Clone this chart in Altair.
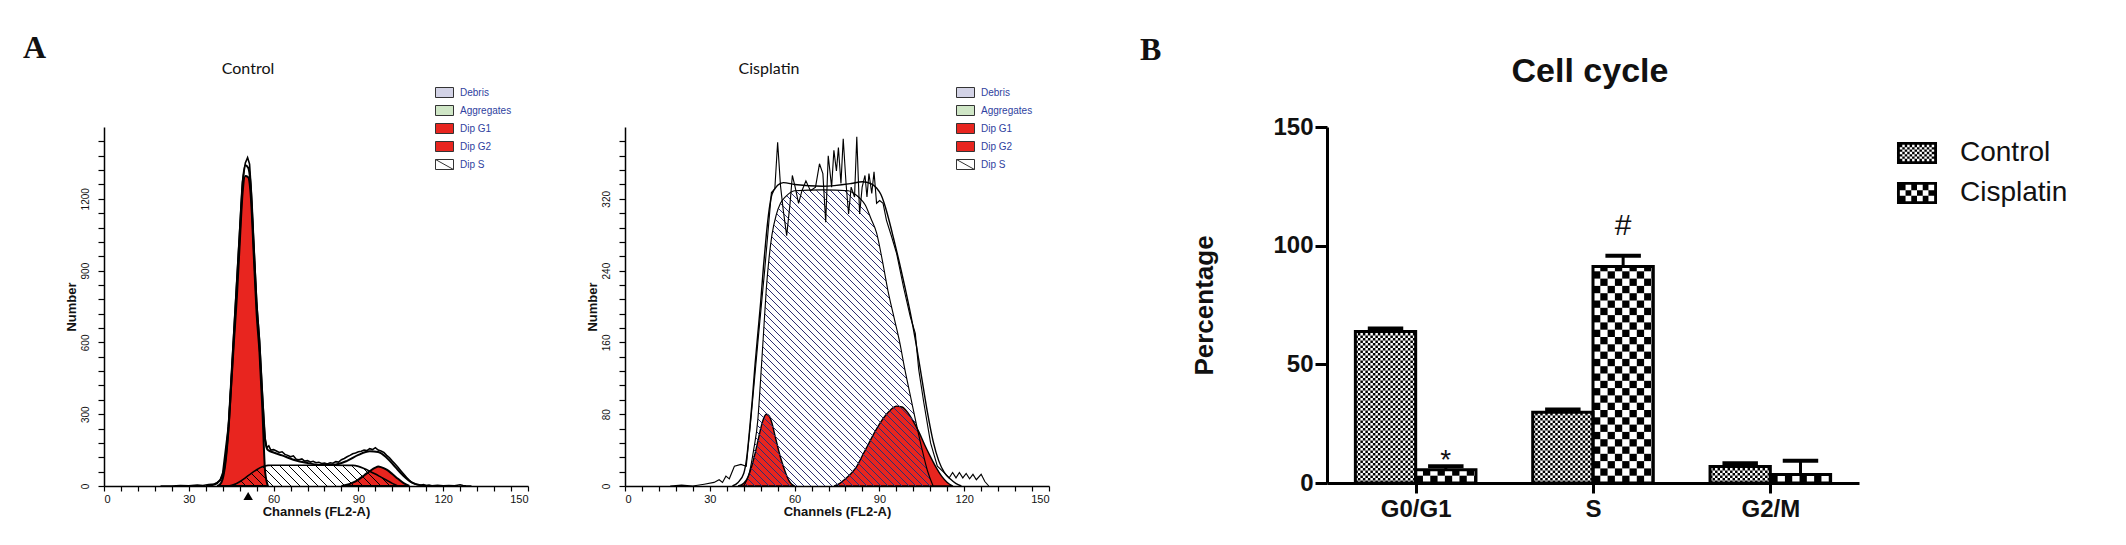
import json

import altair as alt
import numpy as np
import pandas as pd

# ---------------- A: DNA content histograms (FL2-A channel, cell number) ----
ctrl_g1_ch = [40, 41, 42, 43, 44, 45, 46, 47, 48, 49, 50, 51, 52, 53, 54, 55, 56, 57, 58]
ctrl_g1_n = [0, 6, 30, 100, 230, 420, 610, 790, 1010, 1220, 1295, 1290, 1200, 960, 720, 560, 330, 60, 0]
ctrl_g2_ch = [84, 86, 88, 90, 92, 94, 96, 97, 98, 100, 102, 104, 106, 108]
ctrl_g2_n = [0, 5, 14, 27, 44, 62, 77, 81, 79, 68, 50, 30, 12, 0]
ctrl_s_ch = [44, 46, 48, 50, 52, 54, 56, 58, 60, 70, 80, 88, 90, 92, 94, 96, 98, 100, 102, 104]
ctrl_s_n = [0, 6, 18, 34, 52, 68, 80, 86, 87, 87, 87, 86, 82, 73, 62, 50, 37, 24, 11, 0]
ctrl_fit_ch = [36, 38, 40, 42, 44, 46, 48, 49, 50, 51, 52, 53, 54, 55, 56, 57, 58, 60, 63, 67,
               72, 77, 82, 86, 90, 94, 97, 100, 103, 106, 109, 112, 115]
ctrl_fit_n = [0, 3, 12, 45, 240, 640, 1050, 1260, 1340, 1330, 1240, 1000, 760, 600, 380, 190, 150,
              140, 128, 110, 96, 88, 90, 105, 130, 145, 142, 118, 80, 42, 14, 3, 0]
ctrl_raw_ch = [20, 24, 27, 30, 33, 35, 37, 39, 40, 41, 42, 44, 46, 48, 49, 50, 50.8, 51.5, 52, 53,
               54, 55, 56, 57, 57.6, 58.3, 59, 60, 61, 62, 63, 64, 65, 66, 67, 68, 69, 70, 71, 72,
               73, 74, 75, 76, 77, 78, 79, 80, 81, 82, 83, 84, 85, 86, 87, 88, 89, 90, 91, 92,
               93, 94, 95, 96, 97, 98, 99, 100, 101, 102, 103, 104, 105, 106, 107, 108, 109, 110,
               111, 112, 113, 114, 115, 116, 118, 120, 122, 124, 126, 127, 128, 130]
ctrl_raw_n = [0, 0, 2, 1, 4, 2, 6, 8, 14, 22, 55, 250, 660, 1070, 1270, 1350, 1372, 1345, 1250, 1010,
              770, 610, 390, 200, 160, 168, 150, 152, 146, 140, 143, 132, 128, 122, 126, 112, 110,
              113, 104, 106, 100, 103, 97, 99, 94, 96, 92, 97, 95, 102, 100, 110, 115, 122, 128,
              135, 138, 143, 145, 150, 148, 156, 152, 160, 150, 146, 140, 128, 118, 104, 92, 78,
              64, 50, 36, 24, 14, 8, 5, 3, 6, 2, 4, 1, 3, 1, 2, 1, 5, 2, 1, 0]
ctrl_gate_ch = [51]

cis_g1_ch = [40, 42, 43.5, 45, 46, 47, 48, 49, 50, 51, 52, 53, 54, 55, 56, 57, 58, 59, 60]
cis_g1_n = [0, 3, 10, 24, 36, 50, 64, 75, 80, 78, 70, 57, 44, 32, 22, 13, 6, 2, 0]
cis_g2_ch = [74, 76, 78, 80, 82, 84, 86, 88, 90, 92, 94, 96, 98, 100, 102, 104, 106, 108, 110,
             112, 114, 116]
cis_g2_n = [0, 3, 8, 14, 22, 34, 46, 58, 69, 78, 85, 89, 88, 82, 72, 60, 46, 33, 21, 11, 4, 0]
cis_s_ch = [42, 44, 45.5, 47, 48, 49, 50, 51, 52, 53.5, 55, 57, 60, 70, 79, 81, 83, 85, 87, 89,
            91, 93, 95, 97, 99, 101, 103, 105, 107, 109]
cis_s_n = [0, 15, 40, 74, 120, 170, 220, 255, 280, 302, 315, 323, 329, 330, 329, 326, 321, 313,
           298, 282, 252, 218, 190, 163, 130, 100, 70, 42, 17, 0]
cis_fit_ch = [38, 40, 42, 43, 44, 45, 46, 47, 48, 49, 50, 51, 52, 54, 56, 60, 70, 80, 84, 87, 89,
              90.5, 92, 93.5, 95, 97, 99, 101, 103, 105, 107, 109, 111, 113, 115, 117, 119]
cis_fit_n = [0, 4, 14, 30, 60, 95, 135, 170, 205, 245, 280, 308, 325, 335, 338, 336, 334, 337, 339,
             337, 332, 325, 312, 295, 276, 250, 222, 192, 158, 120, 82, 50, 28, 15, 8, 3, 0]
cis_raw_ch = [16, 20, 24, 28, 31.5, 33.3, 34.5, 35.7, 36.9, 38.7, 41, 42.9, 44.7, 47, 49.4, 51.8,
              53, 54, 55, 56, 57.2, 58.4, 59.2, 60.2, 61.4, 62.6, 64, 65.6, 67.4, 68.8, 70, 71,
              71.9, 73.1, 73.9, 74.8, 75.5, 76.4, 77.2, 78.2, 79.1, 80, 81.2, 82, 83, 83.9, 84.9,
              85.6, 86.3, 87.3, 88.1, 89, 90.1, 91.3, 92.5, 94.3, 96.1, 98.5, 100.9, 102.7, 103.9,
              105.7, 108.1, 110.5, 112.9, 114.7, 115.9, 117.1, 118.3, 119.5, 120.7, 121.9, 123.1,
              124.3, 126, 127.3, 128.7]
cis_raw_n = [0, 1, 0, 2, 4, 7, 4, 11, 8, 22, 24, 22, 80, 160, 240, 327, 331, 383, 335, 307, 279,
             315, 346, 333, 315, 329, 340, 329, 333, 359, 348, 294, 368, 333, 374, 351, 377, 337,
             387, 337, 303, 333, 322, 389, 303, 333, 346, 322, 348, 326, 350, 315, 318, 315, 296,
             278, 259, 222, 189, 170, 130, 93, 48, 22, 15, 9, 15, 9, 15, 9, 14, 8, 13, 7, 13, 5, 0]

parts = ["Debris", "Aggregates", "Dip G1", "Dip G2", "Dip S"]
part_fill = ["#d3d3e6", "#cfe6c6", "#e8251f", "#e8251f", "#ffffff"]

# ---------------- B: cell cycle distribution (%) ----------------
phases = ["G0/G1", "S", "G2/M"]
control_mean = [63.8, 29.8, 6.9]
control_sem = [1.3, 1.2, 1.4]
cisplatin_mean = [5.6, 91.2, 3.6]
cisplatin_sem = [1.5, 4.5, 5.8]
signif = ["*", "#", ""]

RED = "#e8251f"
NAVY = "#2f2f70"
SANS = "Liberation Sans"
HIST_W, HIST_H = 424, 359
BAR_W, BAR_H = 532, 356


def frame(ch, n):
    return pd.DataFrame({"ch": ch, "n": n})


def hatch(ch, n, ymax, gap):
    # diagonal "\\\" hatching clipped to the area under the S-phase curve
    px = np.arange(0, HIST_W, 0.25)
    top = HIST_H - np.interp(px / HIST_W * 150, ch, n, left=0, right=0) / ymax * HIST_H
    rows = []
    for b in np.arange(-HIST_H, HIST_W, gap):
        py = px + b
        inside = ((py >= top) & (py <= HIST_H) & (top < HIST_H - 0.5)).astype(int)
        edges = np.flatnonzero(np.diff(np.concatenate([[0], inside, [0]])))
        for s, e in zip(edges[::2], edges[1::2] - 1):
            if e - s < 2:
                continue
            rows.append({"ch": px[s] / HIST_W * 150, "n": (HIST_H - py[s]) / HIST_H * ymax,
                         "ch2": px[e] / HIST_W * 150, "n2": (HIST_H - py[e]) / HIST_H * ymax})
    return pd.DataFrame(rows)


def rect_path(x0, y0, x1, y1):
    return f"M{x0:.3f},{y0:.3f}H{x1:.3f}V{y1:.3f}H{x0:.3f}Z"


def hist_panel(title, ymax, tick_step, label_step, g1, g2, s, fit, raw,
               hatch_color, hatch_gap, lw, gate=None):
    xs = alt.Scale(domain=[0, 150], nice=False, zero=False)
    ys = alt.Scale(domain=[0, ymax], nice=False)
    x_axis = alt.Axis(values=list(range(0, 151, 6)), format="d",
                      labelExpr="datum.value % 30 === 0 ? datum.label : ''",
                      title="Channels (FL2-A)", titleFontSize=13, titleFontWeight="bold",
                      titlePadding=1, labelFontSize=11, labelPadding=2, tickSize=5,
                      labelFont=SANS, titleFont=SANS, grid=False,
                      domainColor="black", tickColor="black", domainWidth=1.5, tickWidth=1.2,
                      labelColor="#111", titleColor="#111")
    y_axis = alt.Axis(values=list(range(0, ymax, tick_step)), format="d",
                      labelExpr=f"datum.value % {label_step} === 0 ? datum.label : ''",
                      title="Number", titleFontSize=13, titleFontWeight="bold",
                      titlePadding=2, labelFontSize=10, labelAngle=-90, labelAlign="center",
                      labelBaseline="bottom", labelPadding=8, tickSize=6,
                      labelFont=SANS, titleFont=SANS, grid=False,
                      domainColor="black", tickColor="black", domainWidth=1.5, tickWidth=1.2,
                      labelColor="#111", titleColor="#111")
    X = alt.X("ch:Q", scale=xs, axis=x_axis)
    Y = alt.Y("n:Q", scale=ys, axis=y_axis)

    red_g1 = alt.Chart(frame(*g1)).mark_area(
        fill=RED, stroke="black", strokeWidth=lw, interpolate="monotone").encode(x=X, y=Y)
    red_g2 = alt.Chart(frame(*g2)).mark_area(
        fill=RED, stroke="black", strokeWidth=lw, interpolate="monotone").encode(x=X, y=Y)
    hatch_lines = alt.Chart(hatch(s[0], s[1], ymax, hatch_gap)).mark_rule(
        color=hatch_color, strokeWidth=1).encode(x=X, y=Y, x2="ch2:Q", y2="n2:Q")
    s_line = alt.Chart(frame(*s)).mark_line(
        color="black", strokeWidth=lw * 0.8, interpolate="monotone").encode(x=X, y=Y)
    fit_line = alt.Chart(frame(*fit)).mark_line(
        color="black", strokeWidth=lw, interpolate="monotone").encode(x=X, y=Y)
    raw_line = alt.Chart(frame(*raw)).mark_line(
        color="black", strokeWidth=lw * 0.8).encode(x=X, y=Y)

    legend = alt.Legend(orient="none", legendX=335, legendY=-40, title=None,
                        labelFont=SANS, labelFontSize=10, labelColor="#2f3fa0",
                        symbolSize=100, labelOffset=10, rowPadding=3, padding=0,
                        symbolOpacity=1, symbolStrokeWidth=1)
    box = rect_path(-1.8, -1, 1.8, 1)
    paths = [box, box, box, box, box + "M-1.8,-1L1.8,1"]
    key = alt.Chart(pd.DataFrame({"part": parts})).mark_point(
        opacity=0, strokeWidth=1, filled=True).encode(
        x=alt.value(0), y=alt.value(0),
        fill=alt.Fill("part:N", scale=alt.Scale(domain=parts, range=part_fill), legend=legend),
        stroke=alt.Stroke("part:N", scale=alt.Scale(domain=parts, range=["#333"] * 5),
                          legend=legend),
        shape=alt.Shape("part:N", scale=alt.Scale(domain=parts, range=paths), legend=legend))

    layers = [red_g1, red_g2, hatch_lines, s_line, fit_line, raw_line, key]
    if gate is not None:
        layers.append(alt.Chart(pd.DataFrame({"ch": gate})).mark_point(
            shape="triangle-up", filled=True, color="black", size=90, opacity=1).encode(
            x=X, y=alt.value(HIST_H + 10)))

    return alt.layer(*layers).properties(
        width=HIST_W, height=HIST_H,
        title=alt.TitleParams(title, font="Lato", fontSize=16, fontWeight="normal",
                              color="#111", anchor="middle", dx=-68, offset=10))


ctrl = hist_panel("Control", 1500, 60, 300,
                  (ctrl_g1_ch, ctrl_g1_n), (ctrl_g2_ch, ctrl_g2_n), (ctrl_s_ch, ctrl_s_n),
                  (ctrl_fit_ch, ctrl_fit_n), (ctrl_raw_ch, ctrl_raw_n),
                  "black", 9, 2.0, gate=ctrl_gate_ch)
cis = hist_panel("Cisplatin", 400, 16, 80,
                 (cis_g1_ch, cis_g1_n), (cis_g2_ch, cis_g2_n), (cis_s_ch, cis_s_n),
                 (cis_fit_ch, cis_fit_n), (cis_raw_ch, cis_raw_n),
                 NAVY, 7, 1.4)

# ---------------- bar chart ----------------
BAR_HALF = 0.34
PX_X = BAR_W / 3.0
PX_Y = BAR_H / 150.0
groups = ["Control", "Cisplatin"]
cell_px = {"Control": 2.5, "Cisplatin": 7.3}

bars, cells, errs = [], [], []
for i, ph in enumerate(phases):
    pos = i + 1
    for g, mean, sem in (("Control", control_mean[i], control_sem[i]),
                         ("Cisplatin", cisplatin_mean[i], cisplatin_sem[i])):
        x0 = pos - BAR_HALF if g == "Control" else pos
        x1 = x0 + BAR_HALF
        bars.append({"x": x0, "x2": x1, "y": 0, "y2": mean, "group": g})
        errs.append({"x": (x0 + x1) / 2, "y": mean, "y2": mean + sem,
                     "c0": (x0 + x1) / 2 - 0.1, "c1": (x0 + x1) / 2 + 0.1,
                     "mark": signif[i] if g == "Cisplatin" else ""})
        cx, cy = cell_px[g] / PX_X, cell_px[g] / PX_Y
        for a in range(int(np.ceil((x1 - x0) / cx))):
            for b in range(int(np.ceil(mean / cy))):
                if (a + b) % 2 == 0:
                    cells.append({"x": x0 + a * cx, "x2": min(x1, x0 + (a + 1) * cx),
                                  "y": b * cy, "y2": min(mean, (b + 1) * cy)})

bars, cells, errs = pd.DataFrame(bars), pd.DataFrame(cells), pd.DataFrame(errs)

bx = alt.Scale(domain=[0.5, 3.5], nice=False, zero=False)
by = alt.Scale(domain=[0, 150], nice=False)
bar_x_axis = alt.Axis(values=[1, 2, 3], labelExpr=f"{json.dumps(phases)}[datum.value - 1]",
                      title=None, labelFont=SANS, labelFontSize=24, labelFontWeight="bold",
                      labelColor="#111", labelPadding=4, tickSize=10, tickWidth=3,
                      domainWidth=3, domainColor="black", tickColor="black", grid=False)
bar_y_axis = alt.Axis(values=[0, 50, 100, 150], title="Percentage", labelFont=SANS,
                      labelFontSize=24, labelFontWeight="bold", labelColor="#111",
                      labelPadding=2, tickSize=12, tickWidth=3, domainWidth=3,
                      domainColor="black", tickColor="black", grid=False,
                      titleFont=SANS, titleFontSize=26, titleFontWeight="bold",
                      titleColor="#111", titlePadding=55)
BX = alt.X("x:Q", scale=bx, axis=bar_x_axis)
BY = alt.Y("y:Q", scale=by, axis=bar_y_axis)

cell_layer = alt.Chart(cells).mark_rect(color="black", strokeWidth=0).encode(
    x=BX, x2="x2:Q", y=BY, y2="y2:Q")
outline = alt.Chart(bars).mark_rect(fillOpacity=0, stroke="black", strokeWidth=3).encode(
    x=BX, x2="x2:Q", y=BY, y2="y2:Q")
whisker = alt.Chart(errs).mark_rule(color="black", strokeWidth=3).encode(
    x=BX, y=BY, y2="y2:Q")
cap = alt.Chart(errs).mark_rule(color="black", strokeWidth=4).encode(
    x=alt.X("c0:Q", scale=bx, axis=bar_x_axis), x2="c1:Q",
    y=alt.Y("y2:Q", scale=by, axis=bar_y_axis))
star = alt.Chart(errs[errs["mark"] == "*"]).mark_text(
    font=SANS, fontSize=28, color="#111", baseline="alphabetic", dy=3).encode(
    x=BX, y=alt.Y("y2:Q", scale=by, axis=bar_y_axis), text="mark:N")
hash_ = alt.Chart(errs[errs["mark"] == "#"]).mark_text(
    font=SANS, fontSize=30, color="#111", baseline="alphabetic", dy=-21).encode(
    x=BX, y=alt.Y("y2:Q", scale=by, axis=bar_y_axis), text="mark:N")


def swatch(n_cols, n_rows):
    w, hh, t = 1.82, 1.0, 0.26
    d = [rect_path(-w, -hh, w, -hh + t), rect_path(-w, hh - t, w, hh),
         rect_path(-w, -hh, -w + t, hh), rect_path(w - t, -hh, w, hh)]
    cw = (2 * (w - t)) / n_cols
    ch = (2 * (hh - t)) / n_rows
    for a in range(n_cols):
        for b in range(n_rows):
            if (a + b) % 2 == 0:
                d.append(rect_path(-w + t + a * cw, -hh + t + b * ch,
                                   -w + t + (a + 1) * cw, -hh + t + (b + 1) * ch))
    return "".join(d)


bar_legend = alt.Legend(orient="none", legendX=576, legendY=12, title=None, labelFont=SANS,
                        labelFontSize=28, labelColor="#111", symbolSize=484, labelOffset=29,
                        rowPadding=12, padding=0, symbolOpacity=1, symbolStrokeWidth=0)
bar_key = alt.Chart(pd.DataFrame({"group": groups})).mark_point(
    opacity=0, filled=True).encode(
    x=alt.value(0), y=alt.value(0),
    fill=alt.Fill("group:N", scale=alt.Scale(domain=groups, range=["black", "black"]),
                  legend=bar_legend),
    shape=alt.Shape("group:N", scale=alt.Scale(domain=groups,
                                               range=[swatch(14, 7), swatch(6, 3)]),
                    legend=bar_legend))

bar = alt.layer(cell_layer, outline, whisker, cap, star, hash_, bar_key).properties(
    width=BAR_W, height=BAR_H,
    title=alt.TitleParams("Cell cycle", font=SANS, fontSize=34, fontWeight="bold",
                          color="#111", anchor="middle", dx=-3, offset=26))

panel_a = alt.hconcat(ctrl, cis, spacing=57, title=alt.TitleParams(
    "A", font="Liberation Serif", fontSize=32, fontWeight="bold", anchor="start",
    dx=-42, dy=4, offset=0, color="#111")).resolve_scale(
    fill="independent", stroke="independent", shape="independent")
panel_b = alt.hconcat(bar, title=alt.TitleParams(
    "B", font="Liberation Serif", fontSize=32, fontWeight="bold", anchor="start",
    dx=-52, dy=14, offset=2, color="#111"))

chart = alt.hconcat(panel_a, panel_b, spacing=89).resolve_scale(
    fill="independent", stroke="independent", shape="independent").properties(
    padding={"left": 15, "top": 24, "right": 5, "bottom": 2}, background="white"
).configure_view(stroke=None)

chart.save("out.html", embed_options={"renderer": "svg", "actions": False})
